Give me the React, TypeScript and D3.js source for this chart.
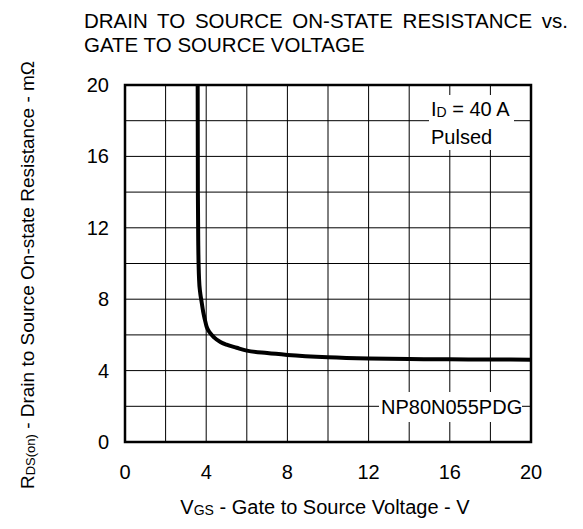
import React from "react";
import * as d3 from "d3";

const vgs = [3.58, 3.59, 3.61, 3.65, 3.7, 3.76, 3.85, 3.94, 4.02, 4.2, 4.4, 4.7, 5.0, 5.5, 6.0, 7.0, 8.0, 10.0, 12.0, 14.0, 16.0, 18.0, 20.0];
const rds = [20.0, 14.0, 11.0, 9.1, 8.4, 7.95, 7.3, 6.83, 6.46, 6.1, 5.85, 5.6, 5.45, 5.28, 5.12, 4.98, 4.88, 4.75, 4.68, 4.65, 4.63, 4.62, 4.61];

const xTicks = [0, 4, 8, 12, 16, 20];
const yTicks = [0, 4, 8, 12, 16, 20];
const gridSteps = [2, 4, 6, 8, 10, 12, 14, 16, 18];

const titleLines = ["DRAIN TO SOURCE ON-STATE RESISTANCE vs.", "GATE TO SOURCE VOLTAGE"];
const partName = "NP80N055PDG";

const W = 583;
const H = 529;
const L = 125, R = 531, T = 85, B = 442;
const FONT = "Liberation Sans, Arial, sans-serif";
const FS = 20;

export default function App() {
  const x = d3.scaleLinear().domain([0, 20]).range([L, R]);
  const y = d3.scaleLinear().domain([0, 20]).range([B, T]);
  const pts = vgs.map((v, i) => [v, rds[i]] as [number, number]);
  const line = d3
    .line<[number, number]>()
    .x((d) => x(d[0]))
    .y((d) => y(d[1]))
    .curve(d3.curveMonotoneX);

  return (
    <svg width={W} height={H} style={{ position: "absolute", left: 0, top: 0, background: "#fff" }} fontFamily={FONT}>
      <rect x={0} y={0} width={W} height={H} fill="#fff" />
      <defs>
        <clipPath id="plotclip">
          <rect x={L} y={T} width={R - L} height={B - T} />
        </clipPath>
      </defs>
      {/* grid */}
      {gridSteps.map((g) => (
        <line key={"v" + g} x1={x(g)} x2={x(g)} y1={T} y2={B} stroke="#000" strokeWidth={1} />
      ))}
      {gridSteps.map((g) => (
        <line key={"h" + g} x1={L} x2={R} y1={y(g)} y2={y(g)} stroke="#000" strokeWidth={1} />
      ))}
      {/* annotation boxes */}
      <rect x={429} y={95} width={85} height={55} fill="#fff" />
      <text x={431} y={116} fontSize={FS} fill="#000">
        I<tspan fontSize={14} dy={1}>D</tspan>
        <tspan dy={-1}> = 40 A</tspan>
      </text>
      <text x={431} y={144} fontSize={FS} fill="#000">Pulsed</text>
      <rect x={379} y={392} width={143} height={30} fill="#fff" />
      <text x={381} y={414} fontSize={FS} fill="#000">{partName}</text>
      {/* curve */}
      <path d={line(pts) || ""} fill="none" stroke="#000" strokeWidth={4} clipPath="url(#plotclip)" />
      {/* frame */}
      <rect x={L} y={T} width={R - L} height={B - T} fill="none" stroke="#000" strokeWidth={2.5} />
      {/* ticks */}
      {yTicks.map((t) => (
        <text key={"yt" + t} x={109} y={y(t) + 7} textAnchor="end" fontSize={FS} fill="#000">
          {t}
        </text>
      ))}
      {xTicks.map((t) => (
        <text key={"xt" + t} x={x(t)} y={479} textAnchor="middle" fontSize={FS} fill="#000">
          {t}
        </text>
      ))}
      {/* title */}
      {titleLines.map((s, i) => (
        <text key={"ti" + i} x={84} y={28 + i * 24} fontSize={20.5} fill="#000" style={i === 0 ? { wordSpacing: "4px" } : undefined}>
          {s}
        </text>
      ))}
      {/* x axis title */}
      <text x={325} y={514} textAnchor="middle" fontSize={FS} fill="#000">
        V<tspan fontSize={14} dy={1}>GS</tspan>
        <tspan dy={-1}> - Gate to Source Voltage - V</tspan>
      </text>
      {/* y axis title */}
      <text transform={`translate(34,${275}) rotate(-90)`} textAnchor="middle" fontSize={19} fill="#000">
        R<tspan fontSize={13} dy={1}>DS(on)</tspan>
        <tspan dy={-1}> - Drain to Source On-state Resistance - mΩ</tspan>
      </text>
    </svg>
  );
}
